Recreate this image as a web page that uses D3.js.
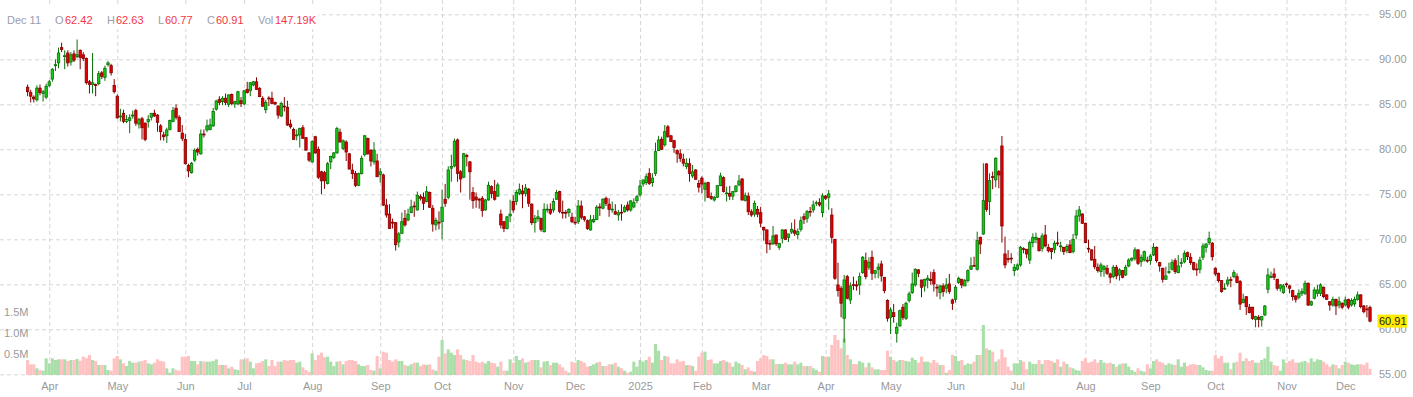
<!DOCTYPE html>
<html>
<head>
<meta charset="utf-8">
<script src="https://cdn.jsdelivr.net/npm/d3@7"></script>
<style>
  body { margin: 0; background: #fff; }
  svg { display: block; font-family: "Liberation Sans", Arial, sans-serif; }
</style>
</head>
<body>
<div id="chart"></div>
<script>
// session range + market holidays (categories for the x axis)
const firstSession = new Date(2024, 2, 20);
const lastSession = new Date(2025, 11, 11);
const holidays = ['2024-03-29','2024-05-27','2024-06-19','2024-07-04','2024-09-02','2024-11-28',
  '2024-12-25','2025-01-01','2025-01-09','2025-01-20','2025-02-17','2025-04-18','2025-05-26',
  '2025-06-19','2025-07-04','2025-09-01','2025-11-27'];

// daily candles [open, high, low, close]
const ohlc = [
  // Mar 2024
  [86.9,87.2,85.9,86.4],[86.3,86.6,85.2,85.9],[85.8,86.0,85.2,85.6],[85.5,87.1,85.3,86.8],[86.8,87.2,86.0,86.3],
  [86.2,86.6,85.3,86.4],[85.8,87.3,85.6,87.0],
  // Apr
  [87.1,87.7,86.9,87.5],[87.8,89.0,87.5,88.9],[89.3,90.0,88.7,89.4],[89.6,91.3,89.0,90.7],[91.3,91.85,90.8,91.1],
  [90.3,91.0,88.9,90.4],[90.7,91.0,89.2,89.6],[89.7,90.8,89.3,90.5],[90.6,91.0,89.7,89.9],[90.3,92.2,90.1,90.5],
  [91.0,91.1,88.9,90.2],[90.5,90.8,89.8,90.1],[90.1,90.2,87.2,87.4],[87.5,87.7,86.2,87.2],[87.2,90.7,86.2,87.4],
  [87.2,87.3,85.9,87.1],[87.3,88.7,87.1,88.4],[88.5,88.7,87.8,88.1],[88.0,89.3,87.6,89.0],[89.4,89.8,89.2,89.6],
  [89.3,89.5,88.2,88.5],[87.1,87.8,86.2,86.4],
  // May
  [85.9,86.1,83.4,83.5],[83.6,84.5,83.1,83.7],[84.0,84.4,82.9,83.1],[83.1,83.8,82.9,83.3],[83.2,83.9,81.8,83.5],
  [83.7,84.3,83.4,83.8],[84.3,84.5,82.6,82.9],[82.8,83.5,82.3,83.3],[83.4,83.6,81.1,82.4],[82.9,83.0,80.9,81.1],
  [83.07,83.8,82.4,83.33],[83.56,84.0,83.2,84.0],[84.0,84.4,83.6,83.7],[83.8,83.9,81.96,83.0],[82.6,82.8,81.0,81.96],
  [81.6,81.96,80.96,81.4],[81.5,82.4,80.7,82.15],[82.2,83.3,82.1,83.2],[83.1,84.7,83.0,84.3],[84.56,85.0,83.3,83.56],
  [83.56,83.8,81.96,81.96],[81.8,82.7,80.9,81.2],
  // Jun
  [81.1,81.7,78.3,78.4],[78.2,78.4,76.9,77.6],[77.4,78.6,77.3,78.45],[78.8,80.1,78.6,79.9],[80.0,80.2,79.3,79.7],
  [79.5,82.2,79.4,81.7],[81.7,82.2,81.3,81.6],[82.15,83.3,81.9,82.6],[82.2,83.4,82.1,82.7],[82.6,84.6,82.5,84.2],
  [84.45,85.5,84.3,85.37],[85.55,85.9,84.9,85.2],[85.3,85.9,84.9,85.67],[85.67,86.2,84.9,85.2],[85.0,86.1,84.7,86.04],
  [86.1,86.2,84.9,85.1],[85.04,85.4,84.6,85.3],[85.04,86.5,84.9,86.4],[85.4,85.8,84.7,85.1],
  // Jul
  [85.04,86.6,84.9,86.5],[86.66,87.5,86.2,86.3],[86.5,87.4,85.9,87.4],[87.15,87.6,87.0,87.5],[87.5,88.0,86.6,86.66],
  [86.78,86.9,85.8,85.85],[85.67,85.9,84.7,84.8],[84.4,85.5,84.0,85.2],[85.7,85.9,84.8,85.6],[85.67,86.4,85.0,85.1],
  [85.2,85.3,84.9,85.04],[84.8,84.9,83.4,83.8],[83.7,85.3,83.6,85.1],[84.8,85.8,84.2,84.7],[84.67,85.4,82.6,82.7],
  [82.8,83.3,82.3,82.5],[82.2,82.4,81.1,81.1],[81.5,82.2,81.0,81.6],[81.6,82.4,80.2,82.3],[82.4,82.7,81.2,81.2],
  [81.3,81.3,79.9,79.9],[79.6,79.7,78.6,78.8],
  // Aug
  [78.6,81.0,78.5,80.85],[81.4,81.5,79.5,79.6],[80.0,80.3,76.7,76.9],[77.5,77.6,75.0,76.5],[77.4,77.6,75.6,76.5],
  [76.2,78.6,76.1,78.4],[78.6,79.3,77.8,79.2],[79.1,79.7,78.9,79.6],[79.6,82.5,79.5,82.3],[81.9,82.3,80.8,80.8],
  [80.1,81.1,79.9,80.95],[80.8,81.0,78.7,79.7],[79.5,79.6,77.8,77.8],[77.7,78.4,76.7,77.3],[77.3,77.6,75.8,76.0],
  [76.0,77.4,75.9,77.3],[77.3,79.3,77.2,79.0],[79.4,81.6,79.2,81.5],[81.2,81.3,79.4,79.5],[79.9,80.0,78.1,78.7],
  [78.6,80.8,78.3,79.9],[78.7,79.5,76.9,76.96],
  // Sep
  [77.2,77.9,76.3,77.5],[77.15,77.3,73.7,73.8],[73.8,74.5,72.4,72.7],[72.8,73.9,71.2,71.2],[71.9,72.3,71.2,71.8],
  [71.85,71.9,68.75,69.4],[69.7,70.8,69.1,70.6],[70.67,72.97,70.6,71.96],[72.33,73.26,71.4,71.6],[72.15,73.4,72.0,72.8],
  [72.96,74.4,72.9,73.6],[73.7,74.2,72.5,73.6],[73.26,75.3,73.2,74.9],[74.74,75.0,74.3,74.56],[74.67,75.2,73.26,74.0],
  [74.2,75.9,74.1,75.3],[75.2,75.3,73.5,73.56],[73.45,73.8,70.85,71.7],[71.6,72.4,71.0,72.1],[71.9,73.1,71.1,71.8],
  // Oct
  [71.96,75.5,70.0,73.56],[74.45,76.15,73.6,74.0],[74.67,78.1,74.45,77.7],[77.9,79.4,76.4,78.1],[78.15,81.2,78.0,80.9],
  [81.04,81.2,76.4,77.33],[77.5,77.7,75.2,76.7],[76.9,79.6,76.8,79.5],[79.3,79.5,78.1,79.2],[78.6,78.7,74.4,77.5],
  [75.2,75.8,73.4,74.3],[74.7,75.2,73.5,74.4],[74.45,74.6,73.4,74.35],[74.56,74.8,72.5,73.2],[73.26,74.5,73.2,74.37],
  [74.37,76.4,74.3,76.0],[75.85,76.0,74.56,75.1],[75.3,76.6,74.3,74.45],[74.8,76.3,74.7,76.04],[72.8,73.3,71.2,71.6],
  [71.96,72.0,70.8,71.2],[71.2,72.6,71.1,72.5],[72.6,74.4,71.9,72.8],
  // Nov
  [74.2,74.9,72.96,73.26],[74.2,75.5,73.8,75.2],[75.1,76.2,74.9,75.56],[75.37,76.04,73.45,75.04],[75.1,76.15,74.75,75.7],
  [75.56,75.7,73.6,74.0],[73.9,74.0,71.6,71.85],[71.85,72.7,70.75,72.33],[72.3,73.26,71.96,72.5],[72.33,72.4,70.85,71.1],
  [70.85,74.0,70.75,73.33],[73.3,73.9,72.96,73.35],[73.33,74.0,72.7,72.9],[73.26,74.56,72.96,74.2],[74.45,75.5,74.37,75.2],
  [75.3,75.4,72.9,73.1],[73.0,74.3,72.3,72.96],[73.0,73.26,72.33,72.9],[72.96,73.45,72.5,73.33],[72.45,72.96,71.8,71.96],
  // Dec
  [71.9,72.5,71.6,71.85],[71.96,74.37,71.7,73.7],[73.7,74.3,72.2,72.45],[72.5,72.6,71.96,72.2],[72.07,72.2,71.04,71.2],
  [71.04,72.7,70.96,72.15],[71.96,72.7,71.8,72.2],[72.2,73.8,72.15,73.56],[73.6,74.0,72.6,73.5],[73.45,74.56,73.33,74.45],
  [74.56,74.75,73.7,74.0],[73.9,74.56,72.5,73.33],[73.3,74.2,72.96,73.35],[73.07,73.9,72.7,72.8],[72.7,73.26,72.07,72.96],
  [73.0,73.9,72.07,72.96],[73.07,73.8,72.96,73.56],[73.8,74.2,73.07,73.26],[73.26,74.37,73.07,74.26],[73.6,74.56,73.45,74.07],
  [74.3,74.93,74.0,74.74],
  // Jan 2025
  [74.93,76.6,74.74,75.93],[76.15,76.6,75.85,76.6],[76.3,77.3,76.04,76.96],[77.33,77.9,76.04,76.2],[76.3,77.33,75.85,76.8],
  [77.33,80.74,77.04,79.74],[79.85,81.5,79.85,81.04],[81.11,81.4,79.93,80.0],[80.5,82.7,80.3,81.96],[82.5,82.7,81.3,81.4],
  [81.5,81.6,80.85,80.85],[80.96,81.0,79.6,80.2],[79.85,80.0,78.5,79.5],[79.5,80.0,78.6,79.0],[78.9,79.5,78.1,78.45],
  [78.1,79.0,77.8,78.45],[78.4,79.0,76.4,77.3],[77.04,78.26,76.8,77.5],[77.7,77.8,76.6,76.67],[76.2,76.6,75.2,75.8],
  // Feb
  [76.8,77.0,75.1,76.15],[75.56,76.4,74.2,76.2],[76.3,76.4,74.6,74.67],[74.74,75.2,74.37,74.56],[74.37,74.8,74.2,74.67],
  [74.67,76.0,74.6,75.96],[75.96,77.4,75.9,77.04],[76.85,77.0,75.2,75.3],[75.1,75.85,74.2,75.15],[75.1,75.93,74.37,74.8],
  [74.8,75.37,74.37,75.3],[75.3,76.0,75.2,75.93],[76.04,77.15,75.9,76.48],[76.7,76.8,74.3,74.37],[74.3,75.2,74.2,74.85],
  [74.8,75.2,72.7,73.07],[73.07,73.33,72.5,72.7],[72.8,74.3,72.5,74.0],[73.33,73.7,72.45,72.8],
  // Mar
  [72.96,73.6,71.33,71.8],[71.33,71.4,69.85,71.04],[71.04,71.1,68.45,69.5],[69.55,69.93,68.82,69.5],[69.5,71.48,69.37,70.37],
  [70.48,70.5,69.26,69.5],[69.11,69.6,68.82,69.55],[70.11,71.11,69.55,71.04],[71.04,71.11,69.93,70.0],[70.22,70.6,69.7,70.6],
  [70.8,71.85,70.6,71.11],[70.96,72.22,70.37,70.67],[70.52,71.2,70.0,70.85],[71.11,72.52,70.85,72.07],[72.52,72.89,71.7,72.22],
  [72.33,73.26,71.85,73.07],[73.1,73.6,72.52,73.07],[73.26,74.3,72.96,73.82],[74.0,74.3,73.7,74.07],[74.07,74.56,73.63,73.82],
  [72.96,75.11,72.45,74.82],
  // Apr
  [74.8,74.93,74.37,74.56],[74.67,75.48,73.26,75.04],[72.7,73.45,69.55,70.22],[70.0,70.0,65.5,65.67],[64.93,67.4,63.63,64.3],
  [64.56,64.8,61.33,62.9],[61.22,66.04,58.52,65.48],[65.85,66.04,63.33,63.45],[63.26,65.2,62.8,64.82],[64.96,65.85,64.37,64.93],
  [64.93,65.4,64.3,64.82],[64.93,66.3,63.82,65.85],[66.3,68.15,66.15,68.0],[67.63,68.52,65.56,65.85],[66.9,68.0,66.6,67.45],
  [68.0,68.74,65.48,66.22],[66.22,66.6,65.67,66.52],[66.67,67.33,65.67,66.9],[67.26,67.63,65.3,65.93],[65.78,65.78,64.0,64.3],
  [63.19,63.33,60.85,61.22],
  // May
  [61.33,62.45,59.48,62.15],[61.85,62.82,60.74,61.41],[59.56,60.74,58.52,60.22],[60.37,62.2,60.3,62.07],[62.45,62.82,61.04,61.33],
  [61.22,63.07,61.04,62.89],[63.19,64.19,62.97,63.93],[64.07,66.3,63.93,65.04],[64.93,66.78,64.74,66.67],[66.6,66.7,65.78,66.22],
  [65.48,65.5,63.56,64.67],[64.82,65.6,64.19,65.56],[65.48,66.04,64.56,65.67],[65.56,66.41,64.93,65.41],[66.3,66.67,64.19,65.04],
  [64.67,65.04,63.63,64.6],[64.07,64.9,63.33,64.82],[64.82,65.11,63.63,64.19],[64.56,65.67,64.0,64.93],[65.04,66.15,63.93,64.19],
  [63.26,63.4,62.15,62.89],
  // Jun
  [63.33,64.93,62.97,64.67],[65.2,65.85,65.04,65.67],[65.56,65.6,64.56,64.93],[64.82,65.6,64.82,65.41],[65.41,66.67,65.19,66.52],
  [66.67,68.0,66.6,67.04],[67.1,68.07,66.96,67.04],[66.67,70.85,66.52,69.85],[70.22,70.3,68.37,69.48],[70.59,78.45,70.48,74.3],
  [78.37,78.45,73.07,73.33],[74.19,77.33,72.7,76.52],[76.96,77.52,75.56,76.9],[76.6,79.11,75.78,79.0],[77.52,77.7,75.67,77.15],
  [80.37,81.48,69.63,71.48],[68.37,70.3,66.78,67.15],[67.85,68.8,67.41,67.78],[67.9,68.45,67.33,67.89],[66.52,67.26,65.93,66.89],
  // Jul
  [66.67,67.33,66.52,67.15],[67.15,69.26,66.96,69.11],[68.96,69.11,68.45,68.89],[68.89,68.9,67.89,68.37],[67.7,69.85,67.26,69.63],
  [69.63,70.67,69.11,70.22],[70.0,70.74,69.56,70.22],[70.11,70.15,68.63,68.74],[69.0,70.67,68.63,70.37],[70.48,71.59,69.11,69.26],
  [69.11,69.48,68.52,68.74],[69.0,69.0,67.78,68.63],[68.89,69.85,68.45,69.56],[69.6,70.85,69.26,69.56],[69.2,69.74,68.63,69.26],
  [69.11,69.15,68.26,68.63],[68.74,69.48,68.45,69.19],[69.37,69.93,68.45,68.52],[68.63,70.59,68.45,70.0],[70.48,73.26,70.0,72.59],
  [72.59,73.7,71.96,73.26],[72.81,72.9,71.7,71.78],
  // Aug
  [71.78,71.85,69.56,69.63],[69.0,69.96,68.52,68.96],[68.82,68.9,67.63,67.7],[67.78,69.26,66.67,66.96],[66.89,67.33,66.3,66.52],
  [66.41,67.41,65.85,67.15],[66.67,67.15,65.85,66.96],[66.78,67.15,66.04,66.22],[66.15,66.3,65.11,65.78],[65.85,67.15,65.67,66.89],
  [66.89,67.15,65.56,65.93],[66.04,66.78,65.41,66.6],[66.52,66.6,65.67,65.78],[66.04,67.15,65.93,66.89],[67.04,67.89,66.89,67.7],
  [67.7,68.0,67.52,67.89],[67.89,69.11,67.63,68.82],[68.82,68.9,67.15,67.33],[67.52,68.3,66.96,68.0],[67.7,68.74,67.52,68.63],
  [67.67,68.07,67.41,67.63],
  // Sep
  [67.63,68.37,67.15,68.15],[68.26,69.56,68.15,69.11],[69.11,69.2,67.41,67.63],[67.41,67.5,66.41,67.04],[66.78,66.85,65.19,65.56],
  [65.56,66.96,65.5,65.93],[66.37,67.41,66.15,66.41],[66.67,67.78,66.52,67.41],[67.63,67.89,66.15,66.41],[66.3,68.26,66.22,67.04],
  [67.33,67.89,66.89,67.41],[67.5,68.74,67.33,68.45],[68.52,68.63,67.7,68.07],[68.0,68.45,67.15,67.41],[67.41,67.5,66.52,66.67],
  [66.7,67.33,65.93,66.67],[66.67,68.07,66.22,67.7],[68.0,69.56,67.7,69.26],[69.11,69.56,68.52,69.48],[69.63,70.85,69.37,70.11],
  [69.56,69.7,67.63,68.07],
  // Oct
  [66.78,66.89,65.93,66.15],[66.22,66.3,65.19,65.41],[65.41,65.48,64.07,64.19],[64.52,65.11,64.37,64.56],[65.04,65.85,64.74,65.48],
  [65.52,65.85,64.67,65.48],[65.85,66.6,65.67,66.3],[65.85,66.22,65.11,65.19],[65.3,65.48,62.15,62.8],[62.96,63.96,62.89,63.33],
  [63.63,63.63,61.59,62.52],[62.45,62.82,61.78,61.85],[62.45,62.5,61.04,61.22],[61.11,61.5,60.22,61.41],[61.33,61.59,60.22,61.11],
  [61.04,61.5,60.3,61.41],[61.59,62.7,61.48,62.59],[64.45,66.78,64.0,66.04],[65.85,66.41,65.67,65.86],[66.15,66.78,65.48,65.78],
  [65.56,65.6,64.3,64.56],[64.56,65.04,64.19,64.93],[64.07,65.04,63.93,64.82],
  // Nov
  [65.04,65.19,64.67,65.0],[64.82,64.93,64.0,64.56],[64.3,64.4,63.19,63.63],[63.7,63.8,62.97,63.33],[63.56,64.45,63.33,64.0],
  [64.0,64.56,63.7,64.19],[64.0,65.41,63.82,65.11],[65.11,65.2,62.59,62.7],[62.7,63.19,62.59,63.07],[63.45,64.67,63.33,64.37],
  [64.0,64.93,63.63,64.37],[64.0,65.11,63.7,64.93],[64.67,64.75,63.45,63.63],[63.82,63.9,63.26,63.33],[63.07,63.1,62.07,62.7],
  [62.7,63.63,62.52,63.33],[63.33,63.4,61.59,62.59],[62.7,63.63,62.33,63.07],[62.89,63.0,62.22,62.45],
  // Dec
  [62.7,63.63,62.52,63.26],[63.33,63.4,62.22,62.45],[62.7,63.45,62.52,63.19],[62.82,63.63,62.52,63.33],[63.33,64.19,63.19,63.82],
  [63.82,63.9,62.33,62.52],[62.59,62.7,61.78,61.96],[62.26,62.7,61.33,62.22],[62.42,62.63,60.77,60.91]
];

// daily volume, thousands of shares
const volume = [
  357,254,254,159,119,103,397,
  278,397,357,373,373,373,333,357,357,381,341,437,397,476,357,333,238,238,238,119,103,397,
  453,373,278,214,333,294,294,318,333,357,278,254,294,373,333,318,159,56,159,119,103,437,
  437,453,333,333,254,333,318,318,318,333,373,238,238,238,159,198,135,119,373,
  373,397,318,159,278,294,333,373,214,357,214,318,318,357,341,357,357,294,318,183,119,79,
  516,357,476,532,421,437,318,214,318,333,254,333,357,357,333,254,214,214,238,119,103,453,
  159,556,532,357,318,373,333,333,238,214,254,294,294,214,254,238,254,135,103,437,
  834,516,611,532,476,611,476,373,357,333,476,318,294,318,278,333,294,278,198,318,103,103,373,
  294,453,357,397,294,318,357,357,357,183,318,333,238,294,294,254,183,103,56,318,
  294,357,333,294,198,214,254,294,318,214,214,254,254,294,198,159,103,56,79,318,198,
  357,318,357,437,294,738,580,357,453,437,278,278,373,318,333,238,238,214,103,437,
  532,556,357,373,278,278,333,357,318,294,198,318,278,238,135,183,103,79,333,
  397,476,453,373,373,262,262,262,294,254,254,318,254,294,214,214,214,159,119,79,453,
  437,437,715,953,834,635,873,476,373,262,262,333,294,183,294,183,135,135,119,119,580,
  437,357,318,357,357,333,318,413,357,294,437,318,318,294,357,294,238,238,56,119,476,
  453,333,357,238,278,262,318,476,476,1191,635,595,556,318,373,611,421,198,103,278,
  278,357,318,135,318,262,262,357,262,357,357,333,294,373,198,318,262,183,159,119,103,333,
  397,294,318,373,294,357,294,278,294,262,198,254,278,278,198,119,79,159,103,79,254,
  159,333,373,318,294,238,278,254,238,373,198,294,214,254,262,238,238,183,119,103,103,
  476,397,453,294,294,135,294,318,532,333,397,333,357,294,294,357,397,675,318,238,214,103,373,
  294,333,373,294,294,318,333,294,397,318,373,357,318,254,198,254,238,159,238,
  318,294,254,238,254,262,238,294,147.19
];

const priceTicks = [55, 60, 65, 70, 75, 80, 85, 90, 95];
const volumeTicks = [500, 1000, 1500];

const width = 1413, height = 397;
const upFill = '#14cc14', upLine = '#0a6e0a';
const downFill = '#e40000', downLine = '#850000';
const upVol = '#aadfaa', downVol = '#ffc1c1';
const gridColor = '#d6d6d6', labelColor = '#999';

const isoDay = d3.timeFormat('%Y-%m-%d');
const dates = d3.timeDay.range(firstSession, d3.timeDay.offset(lastSession, 1))
  .filter(d => d.getDay() % 6 !== 0 && !holidays.includes(isoDay(d)));

const n = Math.min(ohlc.length, volume.length, dates.length);
const data = d3.range(n).map(i => {
  const [o, h, l, c] = ohlc[i];
  return { i, date: dates[i], o, c, h: Math.max(h, o, c), l: Math.min(l, o, c), v: volume[i], up: c >= o };
});

const x = d3.scalePoint().domain(d3.range(n)).range([27.6, 1370]);
const y = d3.scaleLinear().domain([55, 95]).range([374.3, 14.3]);
const yVol = d3.scaleLinear().domain([0, 1500]).range([375, 312]);
const step = x.step();

const monthStarts = d3.range(1, n).filter(i => dates[i].getMonth() !== dates[i - 1].getMonth());
const monthLabel = i => dates[i].getMonth() === 0 ? d3.timeFormat('%Y')(dates[i]) : d3.timeFormat('%b')(dates[i]);

const svg = d3.select('#chart').append('svg')
  .attr('width', width)
  .attr('height', height);

// grid
const gridY = svg.append('g')
  .call(d3.axisRight(y).tickValues(priceTicks).tickSize(1372).tickFormat(''));
const gridX = svg.append('g')
  .attr('transform', 'translate(0,375)')
  .call(d3.axisBottom(x).tickValues(monthStarts).tickSize(-375).tickFormat(''));
[gridY, gridX].forEach(g => {
  g.select('.domain').remove();
  g.selectAll('line').attr('stroke', gridColor).attr('stroke-dasharray', '4,3');
});

// volume
svg.append('g')
  .selectAll('rect')
  .data(data)
  .join('rect')
  .attr('x', d => x(d.i) - step / 2)
  .attr('width', step)
  .attr('y', d => yVol(d.v))
  .attr('height', d => yVol(0) - yVol(d.v))
  .attr('fill', d => d.up ? upVol : downVol);

// candles
const candle = svg.append('g').selectAll('g').data(data).join('g');
candle.append('line')
  .attr('x1', d => x(d.i)).attr('x2', d => x(d.i))
  .attr('y1', d => y(d.h)).attr('y2', d => y(d.l))
  .attr('stroke', d => d.up ? upLine : downLine)
  .attr('stroke-width', 1);
candle.append('rect')
  .attr('x', d => x(d.i) - 1.2)
  .attr('width', 2.4)
  .attr('y', d => y(Math.max(d.o, d.c)))
  .attr('height', d => Math.max(0.8, Math.abs(y(d.o) - y(d.c))))
  .attr('fill', d => d.up ? upFill : downFill)
  .attr('stroke', d => d.up ? upLine : downLine)
  .attr('stroke-width', 0.8);

// axes labels
const axisPrice = svg.append('g')
  .attr('transform', 'translate(1379,0)')
  .call(d3.axisRight(y).tickValues(priceTicks).tickSize(0).tickPadding(0).tickFormat(d3.format('.2f')));
const axisTime = svg.append('g')
  .attr('transform', 'translate(0,376)')
  .call(d3.axisBottom(x).tickValues(monthStarts).tickSize(0).tickPadding(6).tickFormat(monthLabel));
const axisVol = svg.append('g')
  .attr('transform', 'translate(4,0)')
  .call(d3.axisRight(yVol).tickValues(volumeTicks).tickSize(0).tickPadding(0).tickFormat(v => d3.format('.1f')(v / 1000) + 'M'));
[axisPrice, axisTime, axisVol].forEach(g => {
  g.select('.domain').remove();
  g.selectAll('text')
    .attr('fill', labelColor)
    .style('font-size', '11px')
    .style('font-family', '"Liberation Sans", Arial, sans-serif');
});

// last price tag
const last = data[n - 1];
svg.append('rect')
  .attr('x', 1377.5).attr('y', y(last.c) - 6.5)
  .attr('width', 29.5).attr('height', 13)
  .attr('fill', '#ffeb00');
svg.append('text')
  .attr('x', 1379).attr('y', y(last.c))
  .attr('dy', '0.35em')
  .attr('fill', '#222')
  .style('font-size', '11px')
  .text(d3.format('.2f')(last.c));

// header with last session values
svg.append('rect')
  .attr('x', 0).attr('y', 4)
  .attr('width', 318).attr('height', 25)
  .attr('fill', '#fff');
const headerGrey = '#9a9eab', headerRed = '#f23645';
const fmt = d3.format('.2f');
const header = [
  [7, d3.timeFormat('%b %d')(last.date), headerGrey],
  [55, 'O', headerGrey], [65, fmt(last.o), headerRed],
  [107, 'H', headerGrey], [116, fmt(last.h), headerRed],
  [158, 'L', headerGrey], [165, fmt(last.l), headerRed],
  [207, 'C', headerGrey], [216, fmt(last.c), headerRed],
  [258, 'Vol', headerGrey], [275, fmt(last.v) + 'K', headerRed]
];
svg.append('g')
  .selectAll('text')
  .data(header)
  .join('text')
  .attr('x', d => d[0])
  .attr('y', 24)
  .attr('fill', d => d[2])
  .style('font-size', '11px')
  .text(d => d[1]);
</script>
</body>
</html>
